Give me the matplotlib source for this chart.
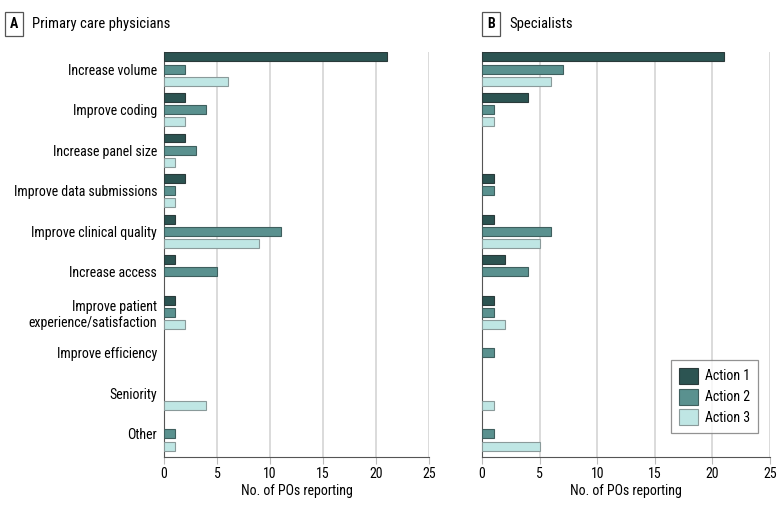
import matplotlib
matplotlib.use("Agg")
import matplotlib.pyplot as plt
import numpy as np

plt.rcParams["font.family"] = ["Roboto Condensed", "Lato", "DejaVu Sans"]

categories = [
    "Increase volume",
    "Improve coding",
    "Increase panel size",
    "Improve data submissions",
    "Improve clinical quality",
    "Increase access",
    "Improve patient\nexperience/satisfaction",
    "Improve efficiency",
    "Seniority",
    "Other",
]
series_names = ["Action 1", "Action 2", "Action 3"]

pcp_action1 = [21, 2, 2, 2, 1, 1, 1, 0, 0, 0]
pcp_action2 = [2, 4, 3, 1, 11, 5, 1, 0, 0, 1]
pcp_action3 = [6, 2, 1, 1, 9, 0, 2, 0, 4, 1]

spec_action1 = [21, 4, 0, 1, 1, 2, 1, 0, 0, 0]
spec_action2 = [7, 1, 0, 1, 6, 4, 1, 1, 0, 1]
spec_action3 = [6, 1, 0, 0, 5, 0, 2, 0, 1, 5]

colors = ["#2c5452", "#5a918f", "#bfe6e4"]
edges = ["#2a3a3a", "#3f5f5e", "#8a9a9a"]

FS = 10


def draw_panel(ax, series, show_labels):
    y = np.arange(len(categories))
    offsets = [-0.3, 0.0, 0.3]
    for vals, off, c, ec, name in zip(series, offsets, colors, edges, series_names):
        v = np.array(vals, dtype=float)
        mask = v > 0
        ax.barh(y[mask] + off, v[mask], height=0.22, color=c, edgecolor=ec,
                linewidth=0.8, label=name, zorder=3)
    ax.set_xlim(0, 25)
    ax.set_ylim(9.57, -0.42)
    ax.set_xticks([0, 5, 10, 15, 20, 25])
    ax.set_yticks(y)
    if show_labels:
        ax.set_yticklabels(categories, fontsize=FS)
        for t in ax.get_yticklabels():
            t.set_multialignment("right")
    else:
        ax.set_yticklabels([])
    ax.tick_params(axis="y", length=0, pad=5)
    ax.tick_params(axis="x", length=5, color="#bbbbbb", labelsize=FS, pad=2)
    ax.grid(axis="x", color="#d4d4d4", linewidth=1.2, zorder=0)
    for s in ["top", "right"]:
        ax.spines[s].set_visible(False)
    ax.spines["left"].set_color("#555555")
    ax.spines["bottom"].set_color("#555555")
    ax.set_xlabel("No. of POs reporting", fontsize=FS, labelpad=2)


fig = plt.figure(figsize=(7.8, 5.12), dpi=100)
axA = fig.add_axes([0.2103, 0.1074, 0.3397, 0.7910])
axB = fig.add_axes([0.6180, 0.1074, 0.3692, 0.7910])

draw_panel(axA, [pcp_action1, pcp_action2, pcp_action3], True)
draw_panel(axB, [spec_action1, spec_action2, spec_action3], False)

box = dict(boxstyle="square,pad=0.35", facecolor="white", edgecolor="#555555", linewidth=0.9)
fig.text(14 / 780, 1 - 24 / 512, "A", fontsize=10, fontweight="bold", ha="center", va="center", bbox=box)
fig.text(32 / 780, 1 - 24 / 512, "Primary care physicians", fontsize=10.5, ha="left", va="center")
fig.text(491 / 780, 1 - 24 / 512, "B", fontsize=10, fontweight="bold", ha="center", va="center", bbox=box)
fig.text(509 / 780, 1 - 24 / 512, "Specialists", fontsize=10.5, ha="left", va="center")

leg = axB.legend(loc="lower right", bbox_to_anchor=(0.958, 0.059), borderaxespad=0,
                 fontsize=FS, frameon=True, fancybox=False, edgecolor="#777777",
                 handlelength=1.4, handleheight=1.4, borderpad=0.55, labelspacing=0.35,
                 handletextpad=0.5)
leg.get_frame().set_linewidth(0.9)

fig.savefig("out.png", dpi=100)
